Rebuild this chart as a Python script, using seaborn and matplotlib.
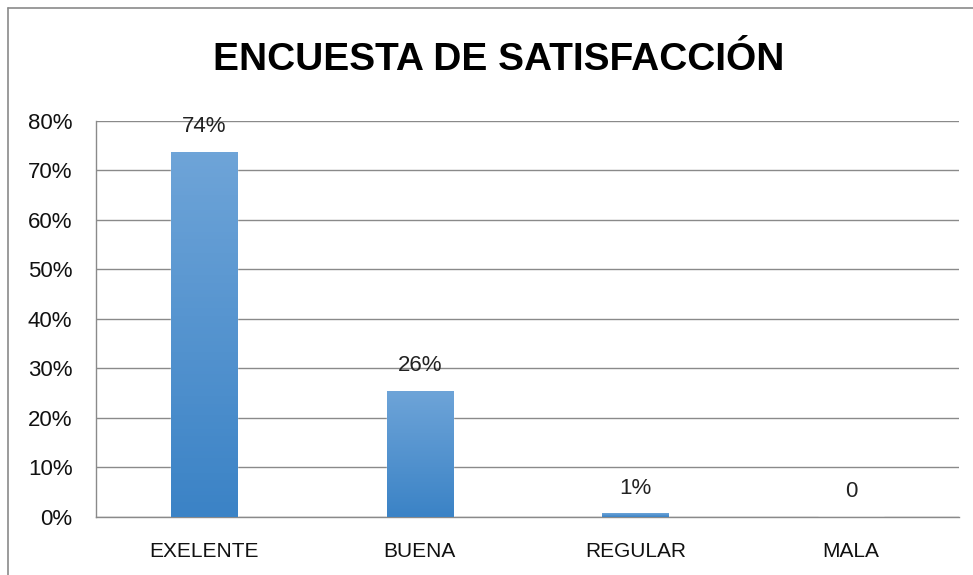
import numpy as np
import matplotlib
matplotlib.use("Agg")
import matplotlib.pyplot as plt
import seaborn as sns
from matplotlib.colors import LinearSegmentedColormap
from matplotlib.lines import Line2D
from matplotlib.ticker import PercentFormatter

categories = ["EXELENTE", "BUENA", "REGULAR", "MALA"]
values = [0.738, 0.255, 0.0075, 0.0]
value_labels = ["74%", "26%", "1%", "0"]
title = "ENCUESTA DE SATISFACCIÓN"

sns.set_style("white")
plt.rcParams["font.family"] = ["Liberation Sans", "DejaVu Sans"]

fig = plt.figure(figsize=(9.73, 5.75), dpi=100)
ax = fig.add_axes([0.0987, 0.1009, 0.8869, 0.6887])

sns.barplot(x=categories, y=values, color="#4f8fcf", width=0.306,
            saturation=1, ax=ax, zorder=3)

# vertical gradient on each bar, lighter at top
grad = LinearSegmentedColormap.from_list("bar", ["#3b83c6", "#6ea4d8"])
for p in ax.patches:
    x0, y0 = p.get_x(), p.get_y()
    w, h = p.get_width(), p.get_height()
    if h <= 0:
        continue
    im = ax.imshow(np.linspace(0, 1, 100).reshape(-1, 1), cmap=grad,
                   origin="lower", aspect="auto",
                   extent=[x0, x0 + w, y0, y0 + h], zorder=4)
    im.set_clip_path(p)

for i, (v, lab) in enumerate(zip(values, value_labels)):
    ax.annotate(lab, (i, v), xytext=(0, 18), textcoords="offset points",
                ha="center", va="center", fontsize=16, color="#222222")

ax.set_xlim(-0.5, 3.5)
ax.set_ylim(0, 0.8)
ax.set_yticks(np.arange(0, 0.81, 0.1))
ax.yaxis.set_major_formatter(PercentFormatter(1.0, decimals=0))
ax.grid(axis="y", color="#8a8a8a", linewidth=1.0, zorder=0)
ax.set_axisbelow(True)
for side in ["top", "right"]:
    ax.spines[side].set_visible(False)
for side in ["left", "bottom"]:
    ax.spines[side].set_color("#8a8a8a")
    ax.spines[side].set_linewidth(1.0)
ax.tick_params(axis="y", length=0, pad=17, labelsize=16, labelcolor="#111111")
ax.tick_params(axis="x", length=0, pad=18, labelsize=15, labelcolor="#111111")
ax.set_xlabel("")
ax.set_ylabel("")

fig.text(499 / 973, 1 - 60 / 575, title, ha="center", va="center",
         fontsize=28, fontweight="bold", color="black")

# outer chart frame (top and left edges visible)
fig.add_artist(Line2D([8 / 973, 1], [1 - 8 / 575] * 2, color="#8a8a8a", lw=1.2))
fig.add_artist(Line2D([8 / 973] * 2, [0, 1 - 8 / 575], color="#8a8a8a", lw=1.2))

fig.savefig("out.png", dpi=100, facecolor="white")
